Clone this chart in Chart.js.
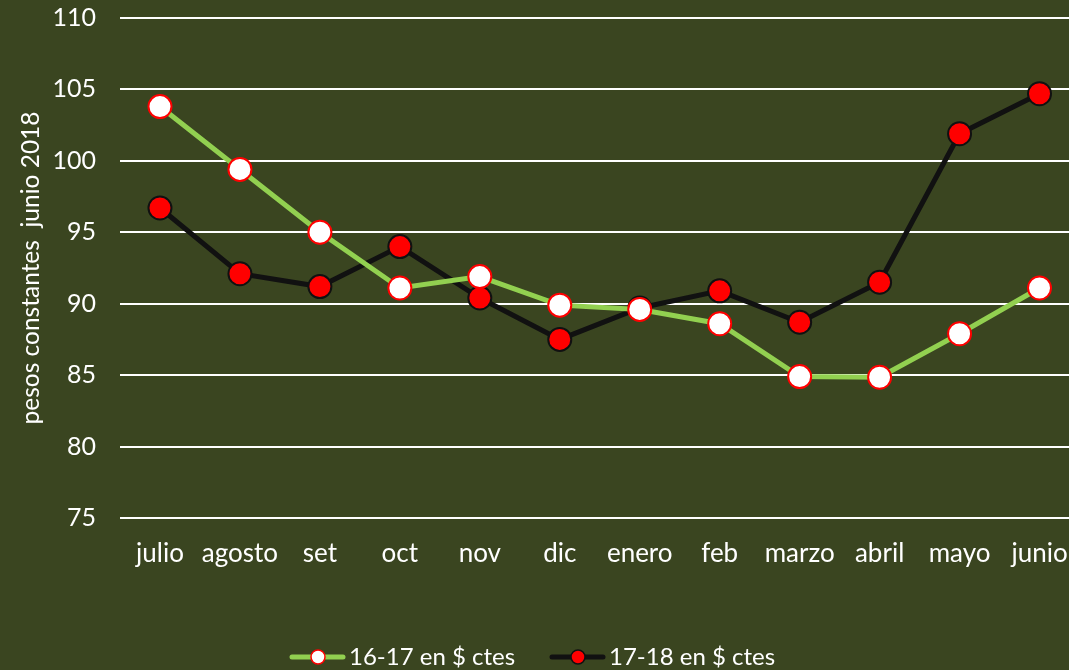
<!DOCTYPE html>
<html>
<head>
<meta charset="utf-8">
<script src="https://cdn.jsdelivr.net/npm/chart.js@4.4.0/dist/chart.umd.min.js"></script>
<style>
  html, body { margin: 0; padding: 0; background: #3a4520; overflow: hidden; }
  #wrap { position: relative; width: 1093px; height: 670px; }
</style>
</head>
<body>
<div id="wrap"><canvas id="chart"></canvas></div>
<script>
const months = ['julio', 'agosto', 'set', 'oct', 'nov', 'dic', 'enero', 'feb', 'marzo', 'abril', 'mayo', 'junio'];
const serie1617 = [103.8, 99.4, 95.0, 91.1, 91.9, 89.9, 89.6, 88.6, 84.9, 84.85, 87.9, 91.1];
const serie1718 = [96.7, 92.1, 91.2, 94.0, 90.4, 87.5, 89.7, 90.9, 88.7, 91.5, 101.9, 104.7];
const yTicks = [75, 80, 85, 90, 95, 100, 105, 110];

const FONT = 'Lato, "Open Sans", sans-serif';
const TEXT = '#ffffff';

// legend drawn by hand: line + marker + label, like the spreadsheet one
const lineLegend = {
  id: 'lineLegend',
  afterDraw(chart) {
    const ctx = chart.ctx;
    const y = 657;
    const starts = [292, 552];
    ctx.save();
    ctx.font = '24px ' + FONT;
    ctx.textBaseline = 'middle';
    chart.data.datasets.forEach((ds, i) => {
      const x0 = starts[i];
      ctx.strokeStyle = ds.borderColor;
      ctx.lineWidth = 5;
      ctx.lineCap = 'round';
      ctx.beginPath();
      ctx.moveTo(x0, y);
      ctx.lineTo(x0 + 51, y);
      ctx.stroke();
      ctx.beginPath();
      ctx.arc(x0 + 26, y, 7, 0, Math.PI * 2);
      ctx.fillStyle = ds.pointBackgroundColor;
      ctx.fill();
      ctx.lineWidth = 1.5;
      ctx.strokeStyle = ds.pointBorderColor;
      ctx.stroke();
      ctx.fillStyle = TEXT;
      ctx.fillText(ds.label, x0 + 57, y);
    });
    ctx.restore();
  }
};

new Chart(document.getElementById('chart'), {
  type: 'line',
  data: {
    labels: months,
    datasets: [
      {
        label: '16-17 en $ ctes',
        data: serie1617,
        borderColor: '#92d050',
        borderWidth: 5,
        pointBackgroundColor: '#ffffff',
        pointBorderColor: '#ff0000',
        pointBorderWidth: 2,
        pointRadius: 11.5,
        tension: 0
      },
      {
        label: '17-18 en $ ctes',
        data: serie1718,
        borderColor: '#111111',
        borderWidth: 5,
        pointBackgroundColor: '#ff0000',
        pointBorderColor: '#111111',
        pointBorderWidth: 2,
        pointRadius: 11.5,
        tension: 0
      }
    ]
  },
  options: {
    responsive: true,
    maintainAspectRatio: false,
    animation: false,
    layout: { padding: { top: 18, right: 0, left: 0, bottom: 0 } },
    plugins: {
      legend: { display: false },
      tooltip: { enabled: false }
    },
    scales: {
      x: {
        offset: true,
        grid: { display: false },
        border: { display: false },
        ticks: { color: TEXT, font: { family: FONT, size: 26 }, padding: 12, maxRotation: 0, autoSkip: false },
        afterFit(scale) {
          scale.height = 152;
        }
      },
      y: {
        min: 75,
        max: 110,
        afterBuildTicks(scale) { scale.ticks = yTicks.map(v => ({ value: v })); },
        grid: { color: '#ffffff', lineWidth: 2, drawTicks: false },
        border: { display: false },
        ticks: { color: TEXT, font: { family: FONT, size: 25 }, padding: 24 },
        title: {
          display: true,
          text: 'pesos constantes  junio 2018',
          color: TEXT,
          font: { family: FONT, size: 24.5 },
          padding: { top: 16, bottom: 0 }
        },
        afterFit(scale) {
          scale.width = 120;
          scale.paddingTop = 0;
          scale.paddingBottom = 0;
        }
      }
    }
  },
  plugins: [lineLegend]
});
</script>
</body>
</html>
